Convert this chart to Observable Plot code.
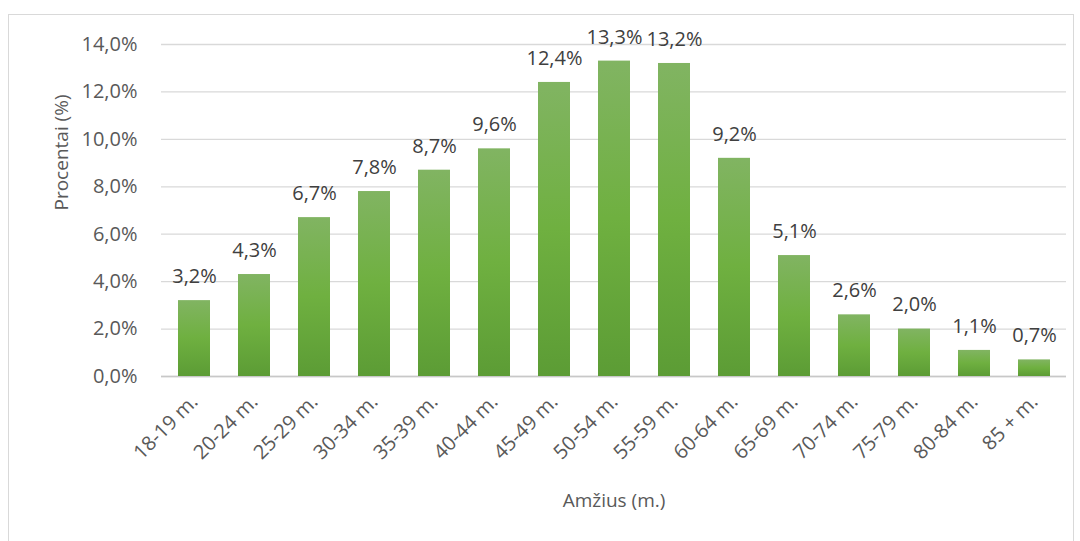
<!DOCTYPE html>
<html>
<head>
<meta charset="utf-8">
<script src="https://cdn.jsdelivr.net/npm/d3@7"></script>
<script src="https://cdn.jsdelivr.net/npm/@observablehq/plot@0.6"></script>
<style>
  html, body { margin: 0; padding: 0; background: #fff; }
  #wrap { position: relative; width: 1080px; height: 541px; overflow: hidden; }
  #border { position: absolute; left: 8px; top: 14px; width: 1066px; height: 540px; border: 1px solid #d9d9d9; box-sizing: border-box; }
  #chart { position: absolute; left: 0; top: 0; }
</style>
</head>
<body>
<div id="wrap"><div id="border"></div><div id="chart"></div></div>
<script>
const categories = ["18-19 m.", "20-24 m.", "25-29 m.", "30-34 m.", "35-39 m.", "40-44 m.", "45-49 m.", "50-54 m.", "55-59 m.", "60-64 m.", "65-69 m.", "70-74 m.", "75-79 m.", "80-84 m.", "85 + m."];
const values = [3.2, 4.3, 6.7, 7.8, 8.7, 9.6, 12.4, 13.3, 13.2, 9.2, 5.1, 2.6, 2.0, 1.1, 0.7];
const yTicks = [0, 2, 4, 6, 8, 10, 12, 14];
const xTitle = "Amžius (m.)";
const yTitle = "Procentai (%)";

const data = categories.map((c, i) => ({ cat: c, v: values[i] }));
const fmt = d => d.toFixed(1).replace(".", ",") + "%";
const font = "'Open Sans', sans-serif";

const plot = Plot.plot({
  width: 1080,
  height: 541,
  marginTop: 44,
  marginBottom: 165,
  marginLeft: 161,
  marginRight: 14,
  style: { fontFamily: font, fontSize: "20px", color: "#595959", background: "transparent" },
  x: { domain: categories, paddingInner: 0.47, paddingOuter: 0.235, label: null },
  y: { domain: [0, 14], label: null },
  marks: [
    Plot.gridY(yTicks, { stroke: "#d9d9d9", strokeOpacity: 1, strokeWidth: 1.3 }),
    Plot.ruleY([0], { stroke: "#c8c8c8", strokeWidth: 1.5 }),
    Plot.barY(data, { x: "cat", y: "v", fill: "url(#barGrad)", style: "filter: drop-shadow(0px 1px 2px rgba(0,0,0,0.35))" }),
    Plot.text(data, { x: "cat", y: "v", text: d => fmt(d.v), dy: -24, lineAnchor: "middle", fill: "#404040", fontSize: 20 }),
    Plot.axisY(yTicks, { tickFormat: fmt, tickSize: 0, tickPadding: 24, fontSize: 20, label: null, fill: "#595959" }),
    Plot.axisX({ tickRotate: -45, tickSize: 0, tickPadding: 22, fontSize: 20, label: null, fill: "#595959" }),
    Plot.text([xTitle], { frameAnchor: "bottom", dy: 124, lineAnchor: "middle", fontSize: 19, fill: "#595959" }),
    Plot.text([yTitle], { frameAnchor: "left", dx: -100, rotate: -90, lineAnchor: "middle", fontSize: 19, fill: "#595959" })
  ]
});

const svg = d3.select(plot);
const defs = svg.insert("defs", ":first-child");
const g = defs.append("linearGradient").attr("id", "barGrad").attr("x1", 0).attr("y1", 0).attr("x2", 0).attr("y2", 1);
g.append("stop").attr("offset", "0%").attr("stop-color", "#81b462");
g.append("stop").attr("offset", "50%").attr("stop-color", "#6fb040");
g.append("stop").attr("offset", "100%").attr("stop-color", "#5c9c35");
document.getElementById("chart").appendChild(plot);
</script>
</body>
</html>
